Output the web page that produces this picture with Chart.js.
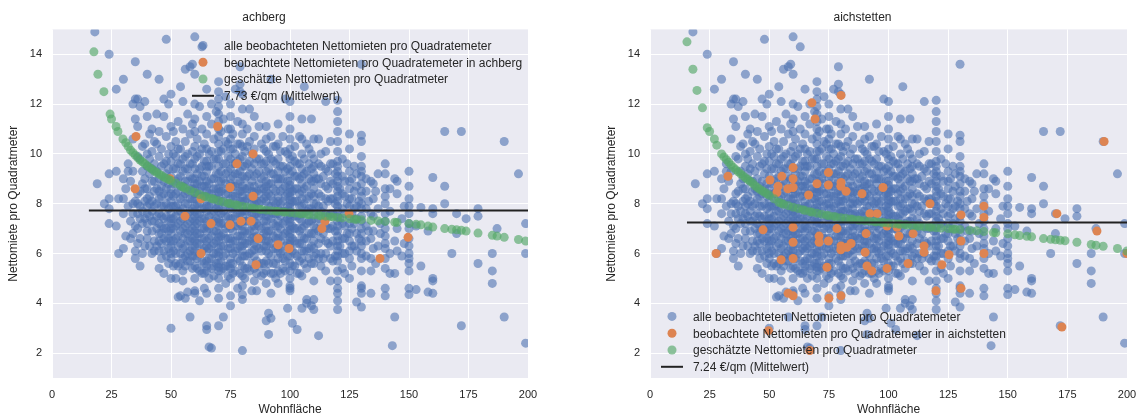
<!DOCTYPE html>
<html lang="de">
<head>
<meta charset="utf-8">
<title>Nettomieten pro Quadratmeter</title>
<script src="https://cdn.jsdelivr.net/npm/chart.js@4.4.1/dist/chart.umd.min.js"></script>
<style>
  html, body { margin: 0; padding: 0; background: #fff; }
  #wrap { position: relative; width: 1147px; height: 418px; }
  canvas { position: absolute; top: 0; }
  #links { left: 0; }
  #rechts { left: 598px; }
</style>
</head>
<body>
<div id="wrap">
  <canvas id="links" width="575" height="418"></canvas>
  <canvas id="rechts" width="549" height="418"></canvas>
</div>
<script>
// alle Beobachtungen: [Wohnfläche, Nettomiete, Nettomiete, ...]
const alleBeobachtungen = [
  [18, 14.9], [19, 8.8], [22, 8.0],
  [24, 14.0, 9.2, 8.2, 7.8, 7.2],
  [27, 12.6, 9.3, 7.1],
  [28, 8.2, 6.0],
  [30, 13.0, 8.2, 6.2, 9.0, 7.6],
  [31, 6.7, 8.6],
  [32, 9.3, 9.6, 7.9],
  [33, 8.9, 7.3, 6.6],
  [34, 12.0, 7.6, 8.0, 10.6, 9.3, 6.8],
  [35, 13.7, 11.4, 8.1, 7.1, 6.1, 5.8, 12.2],
  [36, 11.1, 7.0, 9.9, 8.4, 12.2, 8.0, 7.6, 6.4],
  [37, 9.8, 11.9, 7.4, 6.6, 8.5, 7.9, 5.5],
  [38, 10.3, 8.8, 7.7, 9.3, 7.2, 6.0],
  [39, 12.1, 9.0, 8.1, 6.3, 10.4, 8.6, 7.4],
  [40, 13.2, 11.5, 10.0, 9.5, 8.6, 7.9, 7.2, 6.6, 8.2, 7.6, 6.9],
  [41, 10.8, 9.2, 8.3, 7.5, 9.8, 8.0, 6.3],
  [42, 11.0, 10.1, 8.9, 7.7, 6.9, 6.0, 9.4, 8.1, 7.3],
  [43, 9.6, 8.5, 7.3, 6.5, 10.5, 8.9, 7.9, 6.1],
  [44, 11.6, 10.4, 9.3, 8.0, 7.0, 8.6, 7.5, 6.3],
  [45, 13.0, 10.9, 9.9, 9.0, 8.2, 7.6, 6.8, 6.1, 5.4, 8.5, 7.2, 6.5],
  [46, 10.2, 8.7, 7.9, 7.1, 6.4, 9.5, 8.3, 7.5, 6.8, 5.8],
  [47, 12.2, 11.5, 9.6, 8.4, 7.4, 6.6, 5.2, 8.9, 7.9, 7.0, 6.1],
  [48, 14.6, 10.7, 9.2, 8.0, 7.0, 5.9, 9.7, 8.6, 7.5, 6.5],
  [49, 12.0, 10.0, 8.8, 7.8, 6.9, 6.2, 9.4, 8.3, 7.3, 6.6, 5.6],
  [50, 12.4, 11.1, 10.3, 9.7, 9.1, 8.6, 8.1, 7.6, 7.2, 6.8, 6.3, 5.8, 5.0, 3.0, 8.4, 7.9, 7.4, 7.0, 6.5, 6.0],
  [51, 10.9, 9.4, 8.3, 7.4, 6.5, 5.5, 10.0, 8.8, 7.9, 7.0, 6.1],
  [52, 10.5, 9.9, 8.9, 7.9, 7.1, 6.0, 5.0, 9.4, 8.4, 7.5, 6.6, 5.6],
  [53, 11.3, 9.6, 8.5, 7.7, 6.7, 4.25, 10.2, 9.0, 8.0, 7.2, 6.3, 5.5],
  [54, 12.7, 10.2, 9.1, 8.2, 7.3, 6.4, 5.6, 4.3, 9.6, 8.7, 7.7, 6.9, 6.0],
  [55, 12.1, 11.0, 9.8, 8.7, 7.8, 7.0, 6.2, 5.3, 4.9, 9.3, 8.3, 7.4, 6.6, 5.8],
  [56, 13.4, 10.5, 9.4, 8.4, 7.5, 6.8, 5.9, 4.2, 9.9, 8.9, 8.0, 7.1, 6.3, 5.5],
  [57, 11.6, 10.0, 8.9, 8.0, 7.2, 6.5, 5.7, 4.45, 9.4, 8.5, 7.6, 6.8, 6.0],
  [58, 13.5, 10.8, 9.6, 8.6, 7.7, 6.9, 6.1, 3.45, 9.1, 8.2, 7.3, 6.5, 5.7],
  [59, 13.6, 11.2, 10.1, 9.0, 8.2, 7.4, 6.6, 5.4, 9.6, 8.6, 7.8, 7.0, 6.2, 5.9],
  [60, 14.7, 13.2, 12.0, 11.4, 10.9, 10.3, 9.8, 9.4, 9.0, 8.6, 8.2, 7.9, 7.5, 7.1, 6.7, 6.3, 5.9, 5.5, 5.0, 4.5, 4.4, 8.8, 8.4, 7.7, 7.3, 6.9, 6.5, 6.1],
  [61, 10.6, 9.2, 8.4, 7.6, 6.8, 5.8, 9.9, 8.8, 8.0, 7.2, 6.4, 5.4],
  [62, 11.9, 10.0, 8.9, 8.0, 7.3, 6.4, 4.1, 9.4, 8.5, 7.6, 6.8, 6.0, 5.3],
  [63, 14.3, 11.0, 9.5, 8.7, 7.8, 7.0, 6.1, 5.2, 10.2, 9.1, 8.3, 7.4, 6.6, 5.7],
  [64, 10.4, 9.1, 8.3, 7.4, 6.6, 5.6, 4.6, 9.7, 8.7, 7.8, 7.0, 6.2, 5.2],
  [65, 12.6, 11.5, 10.8, 10.2, 9.7, 9.3, 8.9, 8.5, 8.1, 7.7, 7.3, 6.9, 6.5, 6.1, 5.7, 5.3, 4.4, 3.1, 2.95, 9.5, 8.7, 7.9, 7.1, 6.3, 5.5],
  [66, 10.0, 8.8, 7.9, 7.0, 6.2, 2.25, 9.5, 8.4, 7.5, 6.6, 5.8, 5.0],
  [67, 12.0, 11.2, 9.5, 8.4, 7.6, 6.7, 5.8, 2.2, 10.1, 9.0, 8.0, 7.2, 6.3, 5.4],
  [68, 10.6, 9.0, 8.2, 7.3, 6.4, 5.1, 9.8, 8.6, 7.7, 6.9, 6.0, 5.5],
  [69, 11.7, 9.8, 8.6, 7.8, 6.9, 6.0, 9.2, 8.2, 7.4, 6.5, 5.6],
  [70, 12.9, 12.5, 12.2, 11.9, 11.6, 11.3, 11.0, 10.7, 10.4, 10.1, 9.8, 9.5, 9.2, 8.9, 8.6, 8.3, 8.0, 7.7, 7.4, 7.1, 6.8, 6.5, 6.2, 5.9, 5.6, 5.3, 5.0, 4.6, 4.2, 3.1, 8.45, 7.85, 7.25, 6.65, 6.05, 5.45],
  [71, 10.9, 9.3, 8.5, 7.6, 6.7, 5.7, 10.1, 8.9, 8.1, 7.2, 6.3, 5.3],
  [72, 11.4, 10.2, 9.0, 8.1, 7.2, 6.3, 5.4, 3.45, 9.6, 8.6, 7.7, 6.8, 5.9],
  [73, 12.3, 10.5, 9.6, 8.8, 7.9, 7.0, 6.0, 4.8, 9.2, 8.4, 7.5, 6.6, 5.5],
  [74, 11.0, 9.9, 8.4, 7.5, 6.6, 5.5, 10.4, 9.3, 8.0, 7.1, 6.2, 5.1],
  [75, 12.0, 11.5, 11.0, 10.6, 10.2, 9.8, 9.4, 9.0, 8.6, 8.2, 7.8, 7.4, 7.0, 6.6, 6.2, 5.8, 5.4, 5.0, 4.3, 3.9, 8.8, 8.0, 7.2, 6.4, 5.6],
  [76, 10.8, 9.6, 8.7, 7.8, 6.9, 6.0, 5.2, 10.2, 9.1, 8.3, 7.4, 6.5, 5.6],
  [77, 12.6, 10.0, 9.2, 8.3, 7.5, 6.5, 9.6, 8.7, 7.9, 7.1, 6.1, 5.3],
  [78, 11.3, 9.7, 8.8, 8.0, 7.1, 6.2, 4.6, 10.4, 9.2, 8.4, 7.6, 6.7, 5.8],
  [79, 13.5, 12.8, 12.5, 10.4, 9.3, 8.5, 7.6, 6.7, 5.7, 9.8, 8.9, 8.1, 7.2, 6.3, 5.2],
  [80, 12.4, 11.8, 11.2, 10.8, 10.3, 9.9, 9.5, 9.1, 8.7, 8.3, 7.9, 7.5, 7.1, 6.7, 6.3, 5.9, 5.5, 5.1, 4.7, 4.35, 4.15, 2.1, 8.5, 8.1, 7.7, 7.3, 6.9, 6.5, 6.1],
  [81, 10.1, 9.0, 8.1, 7.3, 6.4, 5.4, 9.5, 8.6, 7.7, 6.9, 5.9, 5.0],
  [82, 11.0, 9.6, 8.6, 7.7, 6.8, 5.9, 10.3, 9.1, 8.2, 7.3, 6.4, 5.4],
  [83, 11.8, 10.5, 9.2, 8.3, 7.4, 6.5, 5.3, 9.7, 8.7, 7.8, 6.9, 6.0],
  [84, 10.0, 8.9, 8.0, 7.1, 6.1, 4.5, 9.4, 8.5, 7.6, 6.6, 5.6],
  [85, 11.5, 10.7, 10.2, 9.6, 9.1, 8.7, 8.2, 7.8, 7.3, 6.9, 6.4, 5.9, 5.4, 4.9, 8.45, 8.0, 7.55, 7.1, 6.65, 6.15],
  [86, 9.8, 8.5, 7.6, 6.7, 5.7, 4.5, 9.2, 8.1, 7.2, 6.3, 5.2],
  [87, 11.1, 9.3, 8.4, 7.5, 6.6, 9.8, 8.8, 8.0, 7.1, 6.2, 5.5],
  [88, 10.4, 9.0, 8.1, 7.0, 6.1, 5.1, 9.6, 8.6, 7.6, 6.6, 5.6],
  [89, 9.6, 8.6, 7.7, 6.8, 5.6, 10.2, 9.1, 8.2, 7.3, 6.3, 5.2],
  [90, 11.1, 10.6, 10.1, 9.7, 9.3, 8.9, 8.5, 8.1, 7.7, 7.3, 6.9, 6.5, 6.1, 5.7, 5.3, 4.8, 3.3, 8.7, 8.3, 7.5, 7.1, 6.7, 6.3],
  [91, 10.0, 8.8, 7.9, 6.9, 6.0, 3.6, 2.75, 9.4, 8.4, 7.5, 6.5, 5.6],
  [92, 13.0, 10.7, 9.2, 8.3, 7.4, 6.4, 5.2, 4.4, 3.4, 9.8, 8.8, 7.9, 6.9, 5.9],
  [93, 9.7, 8.6, 7.6, 6.7, 5.6, 10.3, 9.2, 8.1, 7.2, 6.2, 5.2],
  [94, 10.3, 9.0, 8.0, 7.1, 6.2, 5.0, 9.6, 8.5, 7.6, 6.6, 5.6],
  [95, 11.2, 10.4, 9.8, 9.3, 8.8, 8.3, 7.8, 7.3, 6.8, 6.3, 5.8, 5.3, 4.8, 9.0, 8.1, 7.6, 7.1, 6.6, 6.1],
  [96, 9.5, 8.5, 7.5, 6.5, 10.1, 9.0, 8.0, 7.0, 6.0, 5.2],
  [97, 10.7, 9.0, 8.1, 7.2, 6.1, 5.4, 9.5, 8.6, 7.7, 6.7, 5.8],
  [98, 12.2, 10.1, 8.7, 7.7, 6.8, 5.7, 9.3, 8.3, 7.3, 6.3, 5.3],
  [99, 9.4, 8.4, 7.4, 6.4, 3.8, 10.0, 8.9, 7.9, 6.9, 5.9],
  [100, 12.1, 11.5, 11.0, 10.6, 10.2, 9.8, 9.5, 9.2, 8.9, 8.6, 8.3, 8.0, 7.7, 7.4, 7.1, 6.8, 6.5, 6.2, 5.9, 5.6, 5.3, 5.0, 4.7, 4.6, 4.5, 8.75, 8.45, 8.15, 7.85, 7.55, 7.25, 6.95, 6.65, 6.35],
  [101, 9.9, 8.5, 7.6, 6.6, 5.5, 3.2, 9.3, 8.1, 7.1, 6.1],
  [102, 10.3, 9.1, 8.1, 7.0, 6.0, 9.7, 8.6, 7.5, 6.5, 5.5],
  [103, 9.6, 8.6, 7.5, 6.4, 5.2, 2.95, 9.1, 8.1, 7.0, 5.9],
  [104, 10.7, 9.0, 7.9, 6.9, 5.7, 9.6, 8.4, 7.4, 6.4, 5.2],
  [105, 11.4, 10.6, 10.0, 9.4, 8.8, 8.2, 7.6, 7.0, 6.4, 5.8, 5.1, 3.8, 9.1, 8.5, 7.9, 7.3, 6.7, 6.1],
  [106, 12.7, 9.2, 8.0, 7.1, 6.1, 9.8, 8.6, 7.6, 6.6, 5.6],
  [107, 10.4, 8.7, 7.7, 6.6, 5.4, 4.15, 4.0, 9.3, 8.2, 7.2, 6.1],
  [108, 9.6, 8.3, 7.3, 6.2, 10.2, 9.0, 7.8, 6.8, 5.8],
  [109, 11.4, 10.0, 8.9, 7.8, 6.8, 5.6, 3.9, 9.4, 8.4, 7.3, 6.3],
  [110, 10.6, 9.8, 9.2, 8.6, 8.0, 7.4, 6.8, 6.2, 5.6, 4.9, 4.15, 3.75, 9.5, 8.9, 8.3, 7.7, 7.1, 6.5, 5.9],
  [111, 9.0, 8.0, 7.0, 6.0],
  [112, 10.6, 9.0, 7.9, 6.9, 5.8, 2.7, 9.6, 8.4, 7.4, 6.4],
  [113, 9.5, 8.3, 7.2, 6.0, 10.0, 8.8, 7.7, 6.6, 5.5],
  [114, 9.1, 7.9, 6.8, 5.8],
  [115, 12.1, 10.1, 8.7, 7.6, 6.5, 5.3, 9.4, 8.2, 7.1, 6.0],
  [116, 9.3, 8.1, 7.0, 8.6, 7.5, 6.4],
  [117, 10.5, 8.9, 7.6, 6.3, 4.9, 9.6, 8.2, 7.0, 5.8],
  [118, 9.6, 8.2, 7.1, 5.7, 8.8, 7.6, 6.5],
  [119, 9.2, 8.0, 6.9, 5.9],
  [120, 12.15, 11.7, 11.3, 10.9, 10.5, 10.1, 9.7, 9.3, 8.9, 8.5, 8.1, 7.7, 7.3, 6.9, 6.5, 6.1, 5.7, 5.3, 4.9, 4.6, 4.4, 4.1, 3.75, 9.5, 9.1, 8.7, 8.3, 7.9, 7.5, 7.1, 6.7, 6.3, 5.9],
  [121, 8.6, 7.4, 6.3],
  [122, 9.8, 8.4, 7.2, 6.0, 9.1, 7.8, 6.6, 5.4],
  [123, 8.9, 7.6, 6.6, 5.2, 8.3, 7.1, 6.0],
  [124, 9.6, 8.0, 6.8],
  [125, 10.8, 10.2, 9.3, 8.6, 7.9, 7.2, 6.5, 5.8, 5.0, 8.9, 8.2, 7.5, 6.8, 6.1],
  [126, 8.2, 7.0, 5.5, 9.0, 7.6, 6.3],
  [127, 9.5, 7.8, 6.3, 8.5, 7.2],
  [128, 8.7, 7.4, 6.1, 4.05, 9.2, 7.9, 6.8],
  [129, 8.1, 6.6],
  [130, 13.6, 10.75, 10.5, 9.9, 9.5, 9.3, 8.8, 8.3, 7.8, 7.3, 6.8, 6.3, 5.8, 5.3, 4.7, 4.6, 4.4, 3.85, 9.1, 8.5, 8.0, 7.5, 7.0, 6.5, 6.0],
  [132, 8.5, 7.1, 5.9, 9.0, 7.8, 6.5],
  [133, 8.1, 6.9],
  [134, 8.9, 7.6, 6.6, 5.8, 5.3, 4.4],
  [135, 8.8, 8.2, 6.9, 7.5, 6.2],
  [136, 8.5, 5.6],
  [137, 9.2, 7.8, 6.3],
  [138, 7.2, 6.8],
  [140, 9.6, 9.2, 8.6, 8.0, 7.3, 6.7, 6.2, 5.4, 4.6, 4.3, 8.3, 7.6, 7.0, 6.4, 5.8],
  [142, 7.7, 6.0, 8.6, 5.2],
  [143, 2.3],
  [144, 9.0, 6.5, 5.2, 3.45],
  [145, 8.9, 8.4, 7.0, 6.1],
  [147, 7.4, 5.9],
  [148, 6.4, 7.9],
  [150, 9.3, 8.7, 8.2, 7.9, 7.6, 7.2, 6.6, 6.0, 5.8, 5.6, 5.3, 4.6, 4.35, 7.0, 6.3],
  [153, 4.55, 7.1],
  [155, 7.85, 5.5],
  [158, 4.45, 6.9],
  [160, 9.05, 7.8, 7.6, 5.0, 4.9, 4.4],
  [165, 10.9, 8.7, 8.0],
  [168, 6.0],
  [170, 7.6, 6.8],
  [172, 10.9, 3.1],
  [174, 7.4],
  [179, 7.8, 7.5, 5.6],
  [185, 6.0, 5.3, 4.8],
  [187, 7.0],
  [190, 10.5, 3.45],
  [196, 9.2],
  [199, 7.2, 6.0, 2.4]
];

// Beobachtungen in den Gemeinden
const beobachtetAchberg = [
  [35.3, 10.7], [69.6, 11.1], [84.5, 10.0], [77.7, 9.6], [49.6, 9.0], [34.9, 8.6],
  [74.8, 8.65], [84.5, 8.3], [62.6, 8.2], [55.9, 7.5], [66.8, 7.2], [74.8, 7.15],
  [79.4, 7.3], [83.6, 7.3], [86.6, 6.6], [95, 6.35], [99.6, 6.2], [62.6, 6.0],
  [85.7, 5.55], [124.8, 7.6], [114.7, 7.3], [113.4, 7.0], [149.6, 6.65], [137.8, 5.8]
];

const beobachtetAichstetten = [
  [67.9, 12.05], [80.1, 12.35], [69.2, 11.4], [32.7, 9.1], [50.3, 8.95], [55.3, 9.1],
  [60, 9.45], [60, 9.0], [53.7, 8.7], [53.2, 8.45], [57.8, 8.6], [60, 8.65],
  [66.5, 8.35], [70, 8.8], [74.8, 9.25], [74.8, 8.75], [80.1, 8.85], [80, 8.7],
  [82.2, 8.5], [88.9, 8.4], [97.7, 8.65], [47.4, 6.95], [60, 7.05], [60, 6.45],
  [70.9, 6.7], [70.9, 6.45], [78.4, 7.0], [74.8, 6.5], [80.1, 6.3], [80, 6.15],
  [84.3, 6.4], [82.6, 6.25], [90.6, 6.8], [90.2, 6.05], [92.2, 7.6], [95.2, 7.6],
  [99.4, 7.1], [99.4, 5.4], [91, 5.5], [93, 5.3], [74.2, 5.45], [60, 5.8],
  [55, 5.75], [27.7, 6.0], [57.9, 4.4], [60, 4.3], [75, 4.2], [80.1, 4.3],
  [117.4, 8.0], [130.4, 7.55], [140, 7.9], [140, 7.45], [170.6, 7.6], [187.4, 6.9],
  [104.4, 6.7], [110.3, 6.8], [114.9, 6.3], [114.9, 6.05], [130.4, 6.5], [125.4, 5.95],
  [140, 6.0], [122.4, 5.55], [108.2, 5.6], [119.9, 4.5], [130.4, 4.6], [172.7, 3.05],
  [200, 6.0], [103.6, 7.05], [190.4, 10.5], [49.7, 2.9], [67, 2.1]
];

// geschätzte Nettomieten je Wohnfläche
const geschaetztAchberg = [
  [17.6, 14.1], [19.3, 13.2], [21.8, 12.5], [24.4, 11.6], [25, 11.4], [26.9, 11.1], [27.7, 10.9],
  [29.8, 10.6], [31, 10.45], [32, 10.3], [33, 10.15], [34, 10.05], [35, 9.95], [36, 9.85],
  [37, 9.75], [38, 9.68], [39, 9.6], [40, 9.52], [41, 9.45], [42, 9.38], [43, 9.31],
  [44, 9.25], [45, 9.19], [46, 9.13], [47, 9.07], [48, 9.02], [49, 8.97], [50, 8.92],
  [52, 8.82], [54, 8.72], [55, 8.67], [56, 8.62], [58, 8.53], [60, 8.45], [62, 8.37],
  [64, 8.3], [65, 8.27], [67, 8.21], [68, 8.18], [70, 8.12], [72, 8.07], [74, 8.02],
  [75, 8.0], [77, 7.96], [78, 7.94], [80, 7.9], [82, 7.87], [84, 7.83], [85, 7.81],
  [87, 7.78], [88, 7.77], [90, 7.74], [92, 7.72], [94, 7.7], [95, 7.69], [97, 7.67],
  [98, 7.66], [100, 7.64], [102, 7.62], [104, 7.6], [105, 7.59], [107, 7.57], [108, 7.56],
  [110, 7.55], [112, 7.53], [113, 7.52], [115, 7.5], [117, 7.48], [118, 7.47], [120, 7.45],
  [122, 7.43], [125, 7.4], [127, 7.38], [128, 7.37], [130, 7.36], [134, 7.33], [137, 7.31],
  [140, 7.29], [144, 7.26], [145, 7.25], [150, 7.2], [153, 7.17], [155, 7.15], [158, 7.1],
  [160, 7.06], [165, 7.0], [168, 6.97], [170, 6.95], [172, 6.93], [174, 6.9], [179, 6.82],
  [185, 6.73], [187, 6.7], [190, 6.65], [196, 6.56], [199, 6.5]
];

const geschaetztAichstetten = [
  [15.5, 14.5], [18, 13.4], [19.7, 12.55], [22, 11.85], [24, 11.05], [25, 10.9], [27, 10.6],
  [28, 10.35], [30, 10.0], [31, 9.88], [32, 9.77], [33, 9.66], [34, 9.55], [35, 9.45],
  [36, 9.36], [37, 9.28], [38, 9.2], [39, 9.12], [40, 9.04], [41, 8.97], [42, 8.9],
  [43, 8.83], [44, 8.72], [45, 8.65], [46, 8.58], [47, 8.52], [48, 8.46], [49, 8.4],
  [50, 8.34], [52, 8.2], [54, 8.06], [55, 8.02], [56, 7.98], [58, 7.92], [60, 7.86],
  [62, 7.81], [64, 7.76], [65, 7.73], [67, 7.68], [68, 7.66], [70, 7.62], [72, 7.58],
  [74, 7.54], [75, 7.52], [77, 7.49], [78, 7.47], [80, 7.44], [82, 7.42], [84, 7.39],
  [85, 7.38], [87, 7.35], [88, 7.34], [90, 7.32], [92, 7.3], [94, 7.28], [95, 7.27],
  [97, 7.25], [98, 7.24], [100, 7.22], [102, 7.2], [104, 7.18], [105, 7.17], [107, 7.15],
  [108, 7.14], [110, 7.12], [112, 7.1], [113, 7.09], [115, 7.07], [117, 7.06], [118, 7.05],
  [120, 7.03], [122, 7.02], [125, 7.0], [127, 6.98], [128, 6.97], [130, 6.96], [134, 6.93],
  [137, 6.91], [140, 6.88], [144, 6.84], [145, 6.83], [150, 6.79], [153, 6.75], [155, 6.72],
  [158, 6.69], [160, 6.67], [165, 6.6], [168, 6.57], [170, 6.55], [172, 6.53], [174, 6.51],
  [179, 6.45], [185, 6.36], [187, 6.33], [190, 6.29], [196, 6.2], [200, 6.1]
];

const mittelwertAchberg = 7.73;
const mittelwertAichstetten = 7.24;
const flaecheVon = 15.5;
const flaecheBis = 200;

const xTicks = [0, 25, 50, 75, 100, 125, 150, 175, 200];
const yTicks = [2, 4, 6, 8, 10, 12, 14];

const BLAU = 'rgba(76, 114, 176, 0.6)';
const ORANGE = 'rgba(221, 132, 82, 1)';
const GRUEN = 'rgba(85, 168, 104, 0.65)';
const SCHRIFT = '"Liberation Sans", Arial, sans-serif';
const TEXTFARBE = '#262626';

const allePunkte = [];
alleBeobachtungen.forEach(([flaeche, ...mieten]) => {
  mieten.forEach(m => allePunkte.push({ x: flaeche, y: m }));
});
const alsPunkte = liste => liste.map(([x, y]) => ({ x, y }));

const hintergrund = {
  id: 'hintergrund',
  beforeDraw(chart) {
    const { ctx, chartArea: a } = chart;
    ctx.save();
    ctx.fillStyle = '#EAEAF2';
    ctx.fillRect(a.left, a.top, a.right - a.left, a.bottom - a.top);
    ctx.restore();
  }
};

function zeichnePanel(canvasId, ort, beobachtet, geschaetzt, mittelwert, legX, legY, rechterRand) {
  const eintraege = [
    { text: 'alle beobachteten Nettomieten pro Quadratemeter', farbe: BLAU },
    { text: 'beobachtete Nettomieten pro Quadratemeter in ' + ort, farbe: ORANGE },
    { text: 'geschätzte Nettomieten pro Quadratmeter', farbe: GRUEN },
    { text: mittelwert.toFixed(2) + ' €/qm (Mittelwert)', linie: true }
  ];

  // Legende ohne Rahmen direkt in die Zeichenfläche
  const legende = {
    id: 'legende',
    afterDraw(chart) {
      const { ctx, chartArea: a } = chart;
      const x = a.left + legX;
      ctx.save();
      ctx.font = '12px ' + SCHRIFT;
      ctx.textBaseline = 'middle';
      eintraege.forEach((e, i) => {
        const y = a.top + legY + i * 16.8;
        if (e.linie) {
          ctx.strokeStyle = '#222';
          ctx.lineWidth = 2;
          ctx.beginPath();
          ctx.moveTo(x - 11, y);
          ctx.lineTo(x + 11, y);
          ctx.stroke();
        } else {
          ctx.fillStyle = e.farbe;
          ctx.beginPath();
          ctx.arc(x, y, 4.5, 0, Math.PI * 2);
          ctx.fill();
        }
        ctx.fillStyle = TEXTFARBE;
        ctx.fillText(e.text, x + 21, y + 1);
      });
      ctx.restore();
    }
  };

  return new Chart(document.getElementById(canvasId), {
    type: 'scatter',
    data: {
      datasets: [
        {
          type: 'line',
          data: [{ x: flaecheVon, y: mittelwert }, { x: flaecheBis, y: mittelwert }],
          borderColor: '#222',
          borderWidth: 2,
          pointRadius: 0,
          order: 0
        },
        {
          data: alsPunkte(geschaetzt),
          backgroundColor: GRUEN,
          borderWidth: 0,
          pointRadius: 4.5,
          order: 1
        },
        {
          data: alsPunkte(beobachtet),
          backgroundColor: ORANGE,
          borderWidth: 0,
          pointRadius: 4.5,
          order: 2
        },
        {
          data: allePunkte,
          backgroundColor: BLAU,
          borderWidth: 0,
          pointRadius: 4.5,
          order: 3
        }
      ]
    },
    options: {
      responsive: false,
      animation: false,
      devicePixelRatio: 1,
      layout: { padding: { left: 0, right: rechterRand, top: 0, bottom: 0 } },
      plugins: {
        legend: { display: false },
        tooltip: { enabled: false },
        title: {
          display: true,
          text: ort,
          color: TEXTFARBE,
          font: { family: SCHRIFT, size: 12, weight: 'normal' },
          padding: { top: 10, bottom: 5 }
        }
      },
      scales: {
        x: {
          type: 'linear',
          min: 0,
          max: 200,
          afterBuildTicks: s => { s.ticks = xTicks.map(v => ({ value: v })); },
          afterFit: s => { s.height = 40; },
          grid: { color: '#fff', lineWidth: 1, drawTicks: false },
          border: { display: false },
          ticks: { color: TEXTFARBE, padding: 10, font: { family: SCHRIFT, size: 11 } },
          title: {
            display: true,
            text: 'Wohnfläche',
            color: TEXTFARBE,
            font: { family: SCHRIFT, size: 12 },
            padding: { top: 0, bottom: 1 }
          }
        },
        y: {
          min: 1,
          max: 15,
          afterBuildTicks: s => { s.ticks = yTicks.map(v => ({ value: v })); },
          afterFit: s => { s.width = 52; },
          grid: { color: '#fff', lineWidth: 1, drawTicks: false },
          border: { display: false },
          ticks: { color: TEXTFARBE, padding: 10, font: { family: SCHRIFT, size: 11 } },
          title: {
            display: true,
            text: 'Nettomiete pro Quadratmeter',
            color: TEXTFARBE,
            font: { family: SCHRIFT, size: 12 },
            padding: { top: 6, bottom: 0 }
          }
        }
      }
    },
    plugins: [hintergrund, legende]
  });
}

zeichnePanel('links', 'achberg', beobachtetAchberg, geschaetztAchberg, mittelwertAchberg, 151, 16, 47);
zeichnePanel('rechts', 'aichstetten', beobachtetAichstetten, geschaetztAichstetten, mittelwertAichstetten, 22, 287, 20);
</script>
</body>
</html>
